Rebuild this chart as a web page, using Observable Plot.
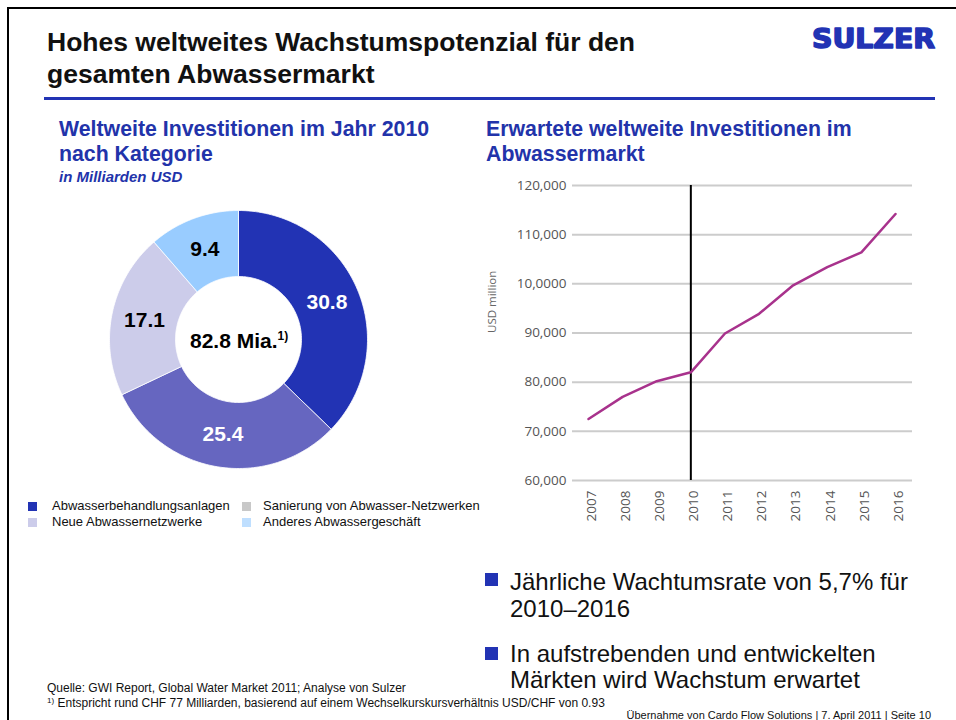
<!DOCTYPE html>
<html><head><meta charset="utf-8">
<script src="https://cdn.jsdelivr.net/npm/d3@7"></script>
<script src="https://cdn.jsdelivr.net/npm/@observablehq/plot@0.6"></script>
<style>
body{margin:0;width:956px;height:720px;position:relative;overflow:hidden;background:#fff;font-family:"Liberation Sans",Arial,sans-serif;color:#111;}
.abs{position:absolute;white-space:nowrap;line-height:1;}
.sq{position:absolute;}
</style></head><body>
<script>
// ---------- DATA ----------
const sliceNames = ["Abwasserbehandlungsanlagen", "Sanierung", "Neue Abwassernetzwerke", "Anderes Abwassergeschäft"];
const sliceValues = [30.8, 25.4, 17.1, 9.4];
const sliceColors = ["#2233b4", "#6666c0", "#ccccea", "#99ccff"];
const sliceDarkLabel = [true, true, false, false];
const donutTotal = "82.8 Mia.";

const legendLabels = ["Abwasserbehandlungsanlagen", "Sanierung von Abwasser-Netzwerken", "Neue Abwassernetzwerke", "Anderes Abwassergeschäft"];
const legendColors = ["#2233b4", "#c8c8c8", "#ccccea", "#bfdfff"];

const years = [2007, 2008, 2009, 2010, 2011, 2012, 2013, 2014, 2015, 2016];
const investments = [72500, 77000, 80200, 82000, 89900, 93900, 99700, 103400, 106400, 114200];
const yTicks = [60000, 70000, 80000, 90000, 100000, 110000, 120000];
const yTickLabels = ["60,000", "70,000", "80,000", "90,000", "10,0000", "110,000", "120,000"];
const markerYear = 2010;
</script>

<div class="abs" style="left:7px;top:7px;width:980px;height:740px;border-left:2px solid #000;border-top:2px solid #000;"></div>

<div class="abs" style="left:47px;top:29px;font-size:26.5px;font-weight:bold;">Hohes weltweites Wachstumspotenzial für den</div>
<div class="abs" style="left:47px;top:61px;font-size:26.5px;font-weight:bold;">gesamten Abwassermarkt</div>
<svg class="abs" style="left:800px;top:20px" width="150" height="40"><text x="12" y="28" textLength="123" lengthAdjust="spacingAndGlyphs" font-family="DejaVu Sans" font-weight="bold" font-size="27" fill="#2233b4" stroke="#2233b4" stroke-width="1.6" stroke-linejoin="round">SULZER</text></svg>
<div class="abs" style="left:44px;top:97px;width:891px;height:3px;background:#2233b4;"></div>

<div class="abs" style="left:59px;top:119px;font-size:21.3px;font-weight:bold;color:#2233aa;">Weltweite Investitionen im Jahr 2010</div>
<div class="abs" style="left:59px;top:144px;font-size:21.3px;font-weight:bold;color:#2233aa;">nach Kategorie</div>
<div class="abs" style="left:59px;top:169px;font-size:15px;font-weight:bold;font-style:italic;color:#2233aa;">in Milliarden USD</div>

<div class="abs" style="left:486px;top:119px;font-size:21.3px;font-weight:bold;color:#2233aa;">Erwartete weltweite Investitionen im</div>
<div class="abs" style="left:486px;top:144px;font-size:21.3px;font-weight:bold;color:#2233aa;">Abwassermarkt</div>

<div id="donut" class="abs" style="left:98px;top:199px;"></div>
<div class="abs" style="left:190px;top:330px;font-size:21px;font-weight:bold;color:#000;"><span id="total"></span><span style="font-size:12px;position:relative;top:-8px;">1)</span></div>

<div id="legend"></div>

<div id="line" class="abs" style="left:480px;top:170px;"></div>

<div class="sq" style="left:485px;top:573px;width:13px;height:13px;background:#2233b4;"></div>
<div class="abs" style="left:510px;top:570px;font-size:24px;">Jährliche Wachtumsrate von 5,7% für</div>
<div class="abs" style="left:510px;top:597px;font-size:24px;">2010–2016</div>
<div class="sq" style="left:485px;top:647px;width:13px;height:13px;background:#2233b4;"></div>
<div class="abs" style="left:510px;top:642px;font-size:24px;">In aufstrebenden und entwickelten</div>
<div class="abs" style="left:510px;top:668px;font-size:24px;">Märkten wird Wachstum erwartet</div>

<div class="abs" style="left:47px;top:682px;font-size:12px;">Quelle: GWI Report, Global Water Market 2011; Analyse von Sulzer</div>
<div class="abs" style="left:47px;top:697px;font-size:12px;"><span style="font-size:8px;position:relative;top:-4px;">1)</span> Entspricht rund CHF 77 Milliarden, basierend auf einem Wechselkurskursverhältnis USD/CHF von 0.93</div>
<div class="abs" style="right:25px;top:710px;font-size:11px;">Übernahme von Cardo Flow Solutions | 7. April 2011 | Seite 10</div>

<script>
// ---------- DONUT ----------
const total = d3.sum(sliceValues);
const R = 129, r0 = 63, steps = 90;
const polys = [];
const labels = [];
let acc = 0;
sliceValues.forEach((v, i) => {
  const a0 = acc / total * 2 * Math.PI;
  acc += v;
  const a1 = acc / total * 2 * Math.PI;
  const pts = [];
  for (let k = 0; k <= steps; k++) {
    const a = a0 + (a1 - a0) * k / steps;
    pts.push({slice: sliceNames[i], x: R * Math.sin(a), y: R * Math.cos(a)});
  }
  for (let k = steps; k >= 0; k--) {
    const a = a0 + (a1 - a0) * k / steps;
    pts.push({slice: sliceNames[i], x: r0 * Math.sin(a), y: r0 * Math.cos(a)});
  }
  pts.push(pts[0]);
  polys.push(...pts);
  const am = (a0 + a1) / 2, rm = (R + r0) / 2;
  labels.push({x: rm * Math.sin(am), y: rm * Math.cos(am), text: v.toFixed(1), dark: sliceDarkLabel[i]});
});

const donut = Plot.plot({
  width: 280, height: 280, margin: 0,
  x: {domain: [-140, 140], axis: null},
  y: {domain: [-140, 140], axis: null},
  color: {domain: sliceNames, range: sliceColors},
  style: {background: "transparent", fontFamily: "Liberation Sans, Arial, sans-serif"},
  marks: [
    Plot.line(polys, {x: "x", y: "y", z: "slice", fill: "slice", stroke: "#ffffff", strokeWidth: 0.8, curve: "linear"}),
    Plot.text(labels, {filter: d => d.dark, x: "x", y: "y", text: "text", fill: "#ffffff", fontSize: 21, fontWeight: "bold"}),
    Plot.text(labels, {filter: d => !d.dark, x: "x", y: "y", text: "text", fill: "#000000", fontSize: 21, fontWeight: "bold"})
  ]
});
document.getElementById("donut").appendChild(donut);
document.getElementById("total").textContent = donutTotal;

// ---------- LEGEND ----------
const legendPos = [[28, 502, 52], [242, 502, 263], [28, 518, 52], [242, 518, 263]];
const lg = document.getElementById("legend");
legendLabels.forEach((lab, i) => {
  const [lx, ly, tx] = legendPos[i];
  const s = document.createElement("div");
  s.className = "sq";
  s.style.cssText = `left:${lx}px;top:${ly}px;width:9px;height:9px;background:${legendColors[i]};`;
  lg.appendChild(s);
  const t = document.createElement("div");
  t.className = "abs";
  t.style.cssText = `left:${tx}px;top:${ly - 3}px;font-size:13px;color:#111;`;
  t.textContent = lab;
  lg.appendChild(t);
});

// ---------- LINE CHART ----------
const series = years.map((yr, i) => ({year: yr, value: investments[i]}));
const line = Plot.plot({
  width: 440, height: 360,
  marginTop: 15, marginBottom: 50, marginLeft: 92, marginRight: 8,
  x: {domain: [years[0], years[years.length - 1]], insetLeft: 16, insetRight: 17},
  y: {domain: [yTicks[0], yTicks[yTicks.length - 1]]},
  style: {background: "transparent", fontFamily: "Open Sans, Lato, sans-serif", fontSize: "13.5px", color: "#555", overflow: "visible"},
  marks: [
    Plot.ruleY(yTicks, {stroke: "#cccccc", strokeWidth: 2}),
    Plot.axisY({ticks: yTicks, tickSize: 0, tickPadding: 6, tickFormat: d => yTickLabels[yTicks.indexOf(d)], label: null}),
    Plot.axisX({ticks: years, tickSize: 0, tickPadding: 10, tickRotate: -90, tickFormat: d => String(d), label: null, dx: 3}),
    Plot.ruleX([markerYear], {stroke: "#000", strokeWidth: 2}),
    Plot.line(series, {x: "year", y: "value", stroke: "#a8328c", strokeWidth: 2.5}),
    Plot.text(["USD million"], {text: d => d, frameAnchor: "left", rotate: -90, dx: -80, fill: "#666", fontSize: 11.5})
  ]
});
document.getElementById("line").appendChild(line);
</script>
</body></html>
